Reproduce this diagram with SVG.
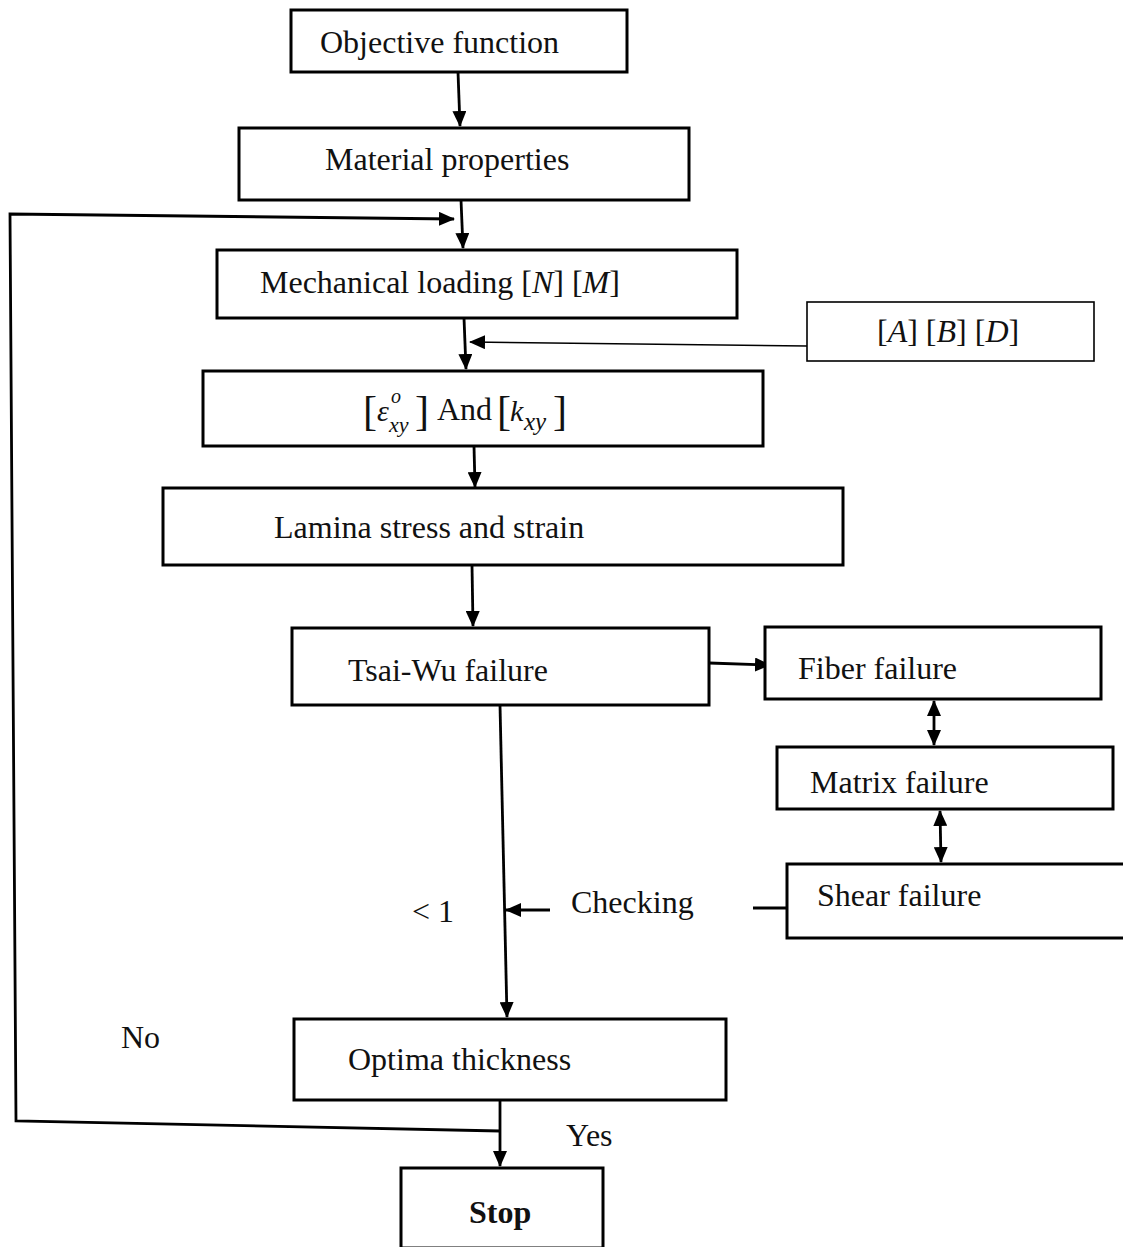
<svg xmlns="http://www.w3.org/2000/svg" width="1123" height="1247" viewBox="0 0 1123 1247">
<style>
.box{fill:#fff;stroke:#000;stroke-width:3}
.thin{fill:#fff;stroke:#000;stroke-width:1.6}
.t{font-family:"Liberation Serif","Times New Roman",serif;font-size:32px;fill:#111}
.m{font-family:"Liberation Serif","Times New Roman",serif;font-style:italic;fill:#111}
.c{fill:none;stroke:#000;stroke-width:2.8}
.cf{fill:none;stroke:#000;stroke-width:1.5}
</style>
<defs>
<marker id="ah" markerWidth="16" markerHeight="14" refX="15" refY="7" orient="auto" markerUnits="userSpaceOnUse">
<path d="M0,0 L16,7 L0,14 Z" fill="#000"/>
</marker>
<marker id="as" markerWidth="16" markerHeight="14" refX="1" refY="7" orient="auto" markerUnits="userSpaceOnUse">
<path d="M16,0 L0,7 L16,14 Z" fill="#000"/>
</marker>
</defs>
<rect width="1123" height="1247" fill="#fff"/>
<g id="connectors">
<line class="c" x1="458" y1="72" x2="460" y2="126" marker-end="url(#ah)"/>
<line class="c" x1="461" y1="200" x2="463" y2="248" marker-end="url(#ah)"/>
<polyline class="c" points="500,1131 16,1121 10,214 454,219" marker-end="url(#ah)"/>
<line class="c" x1="464" y1="318" x2="466" y2="369" marker-end="url(#ah)"/>
<line class="cf" x1="807" y1="346" x2="470" y2="342" marker-end="url(#ah)"/>
<line class="c" x1="474" y1="446" x2="475" y2="487" marker-end="url(#ah)"/>
<line class="c" x1="472" y1="565" x2="473" y2="626" marker-end="url(#ah)"/>
<line class="c" x1="709" y1="663" x2="770" y2="665" marker-end="url(#ah)"/>
<line class="c" x1="934" y1="701" x2="934" y2="745" marker-start="url(#as)" marker-end="url(#ah)"/>
<line class="c" x1="940" y1="811" x2="941" y2="862" marker-start="url(#as)" marker-end="url(#ah)"/>
<line class="c" x1="500" y1="705" x2="507" y2="1017" marker-end="url(#ah)"/>
<line class="c" x1="550" y1="910" x2="506" y2="910" marker-end="url(#ah)"/>
<line class="c" x1="753" y1="908" x2="787" y2="908"/>
<line class="c" x1="500" y1="1100" x2="500" y2="1166" marker-end="url(#ah)"/>
</g>
<g id="n-objective">
<rect class="box" x="291" y="10" width="336" height="62"/>
<text class="t" x="320" y="53">Objective function</text>
</g>
<g id="n-material">
<rect class="box" x="239" y="128" width="450" height="72"/>
<text class="t" x="325" y="170">Material properties</text>
</g>
<g id="n-mechanical">
<rect class="box" x="217" y="250" width="520" height="68"/>
<text class="t" x="260" y="293">Mechanical loading [<tspan class="m">N</tspan>] [<tspan class="m">M</tspan>]</text>
</g>
<g id="n-abd">
<rect class="thin" x="807" y="302" width="287" height="59"/>
<text class="t" x="877" y="342">[<tspan class="m">A</tspan>] [<tspan class="m">B</tspan>] [<tspan class="m">D</tspan>]</text>
</g>
<g id="n-strain">
<rect class="box" x="203" y="371" width="560" height="75"/>
<text class="t" x="363" y="425" style="font-size:42px">[</text>
<text class="m" x="377" y="421" style="font-size:30px">ε</text>
<text class="m" x="391" y="403" style="font-size:20px">o</text>
<text class="m" x="389" y="432" style="font-size:22px">xy</text>
<text class="t" x="415" y="425" style="font-size:42px">]</text>
<text class="t" x="437" y="420">And</text>
<text class="t" x="497" y="425" style="font-size:42px">[</text>
<text class="m" x="510" y="421" style="font-size:30px">k</text>
<text class="m" x="524" y="430" style="font-size:25px">xy</text>
<text class="t" x="553" y="425" style="font-size:42px">]</text>
</g>
<g id="n-lamina">
<rect class="box" x="163" y="488" width="680" height="77"/>
<text class="t" x="274" y="538">Lamina stress and strain</text>
</g>
<g id="n-tsai">
<rect class="box" x="292" y="628" width="417" height="77"/>
<text class="t" x="348" y="681">Tsai-Wu failure</text>
</g>
<g id="n-fiber">
<rect class="box" x="765" y="627" width="336" height="72"/>
<text class="t" x="798" y="679">Fiber failure</text>
</g>
<g id="n-matrix">
<rect class="box" x="777" y="747" width="336" height="62"/>
<text class="t" x="810" y="793">Matrix failure</text>
</g>
<g id="n-shear">
<rect class="box" x="787" y="864" width="340" height="74"/>
<text class="t" x="817" y="906">Shear failure</text>
</g>
<g id="n-optima">
<rect class="box" x="294" y="1019" width="432" height="81"/>
<text class="t" x="348" y="1070">Optima thickness</text>
</g>
<g id="n-stop">
<rect class="box" x="401" y="1168" width="202" height="80"/>
<text class="t" x="469" y="1223" font-weight="bold">Stop</text>
</g>
<g id="labels">
<text class="t" x="412" y="922">&lt; 1</text>
<text class="t" x="571" y="913">Checking</text>
<text class="t" x="121" y="1048">No</text>
<text class="t" x="566" y="1146">Yes</text>
</g>
</svg>
